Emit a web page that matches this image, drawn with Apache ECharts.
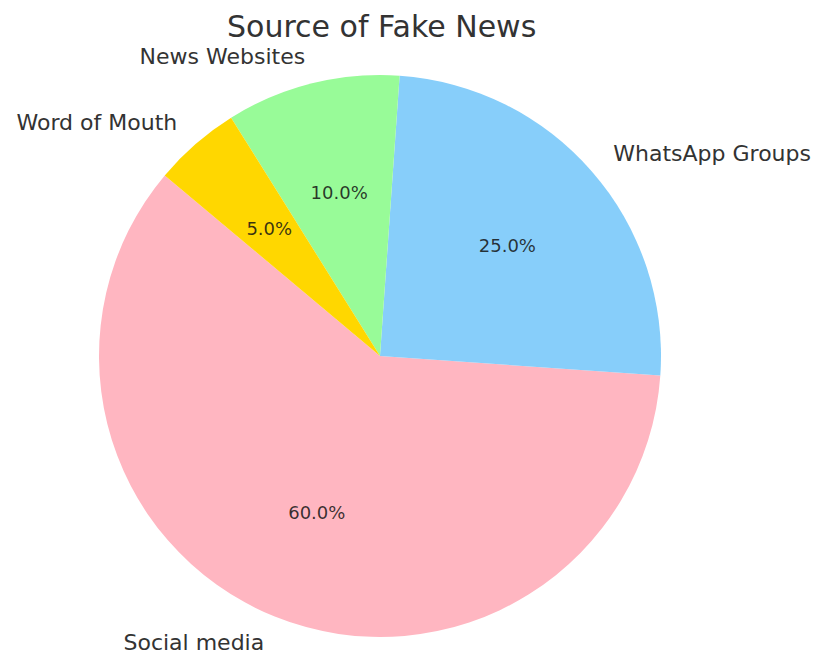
<!DOCTYPE html>
<html>
<head>
<meta charset="utf-8">
<script src="https://cdn.jsdelivr.net/npm/echarts@6/dist/echarts.min.js"></script>
<style>
  html, body { margin: 0; padding: 0; background: #fff; }
  #chart { width: 815px; height: 654px; }
</style>
</head>
<body>
<div id="chart"></div>
<script>
var categories = ['Social media', 'WhatsApp Groups', 'News Websites', 'Word of Mouth'];
var shares = [60, 25, 10, 5];
var colors = ['#FFB6C1', '#87CEFA', '#98FB98', '#FFD700'];

var font = 'DejaVu Sans';
var ink = '#333333';
var R = 281;

var pieData = categories.map(function(name, i) {
  return { name: name, value: shares[i], itemStyle: { color: colors[i] } };
});
var ghostData = categories.map(function(name, i) {
  return { name: name, value: shares[i] };
});

var chart = echarts.init(document.getElementById('chart'), null, { renderer: 'svg' });
chart.setOption({
  animation: false,
  title: {
    text: 'Source of Fake News',
    left: 222,
    top: 6,
    textStyle: { fontFamily: font, fontSize: 30, fontWeight: 'normal', color: ink }
  },
  series: [
    {
      type: 'pie',
      center: [380, 356],
      radius: [0, R],
      startAngle: 140,
      clockwise: false,
      avoidLabelOverlap: false,
      silent: true,
      data: pieData,
      label: {
        show: true,
        position: 'outside',
        distanceToLabelLine: 0,
        fontFamily: font,
        fontSize: 22,
        color: ink
      },
      labelLine: { show: false, length: R * 0.1, length2: 0 }
    },
    {
      type: 'pie',
      center: [380, 356],
      radius: [R * 0.18, R],
      startAngle: 140,
      clockwise: false,
      silent: true,
      data: ghostData,
      itemStyle: { color: 'rgba(0,0,0,0)' },
      label: {
        show: true,
        position: 'inside',
        fontFamily: font,
        fontSize: 18,
        color: 'rgba(20,20,20,0.85)',
        formatter: function(p) { return p.value.toFixed(1) + '%'; }
      },
      labelLine: { show: false }
    }
  ]
});
</script>
</body>
</html>
